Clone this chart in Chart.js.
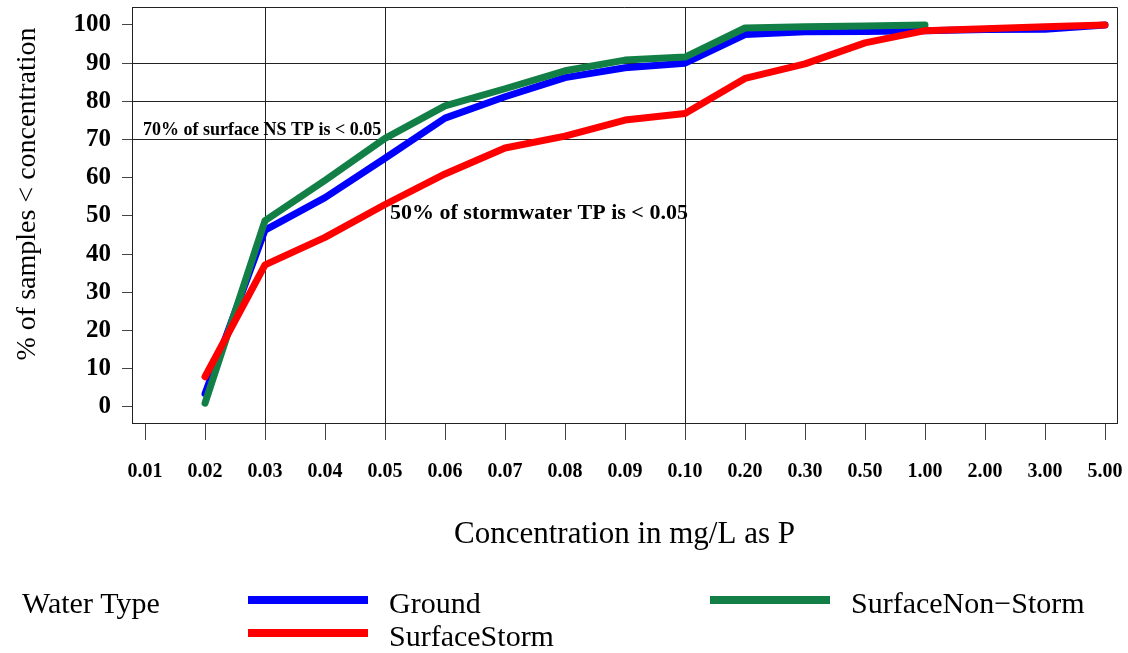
<!DOCTYPE html>
<html>
<head>
<meta charset="utf-8">
<style>
html,body{margin:0;padding:0;background:#fff;}
#wrap{width:1128px;height:653px;}
</style>
<script src="https://cdn.jsdelivr.net/npm/chart.js@4/dist/chart.umd.min.js"></script>
</head>
<body>
<div id="wrap"><canvas id="c" width="1128" height="653"></canvas></div>
<script>
const categories = ['0.01','0.02','0.03','0.04','0.05','0.06','0.07','0.08','0.09','0.10','0.20','0.30','0.50','1.00','2.00','3.00','5.00'];
const yTicks = [0,10,20,30,40,50,60,70,80,90,100];
const ground          = [null, 3.5, 46.3, 54.8, 65.1, 75.6, 81.2, 86.2, 88.8, 90.0, 97.5, 98.2, 98.3, 98.5, 98.8, 98.9, 100];
const surfaceStorm    = [null, 7.9, 37.2, 44.4, 53.0, 61.0, 67.8, 70.9, 75.1, 76.8, 86.0, 89.8, 95.3, 98.5, 99.0, 99.5, 100];
const surfaceNonStorm = [null, 1.0, 48.8, 59.3, 70.3, 78.8, 83.3, 88.0, 90.8, 91.6, 99.2, 99.5, 99.7, 100, null, null, null];
const seriesNames  = ['Ground', 'SurfaceStorm', 'SurfaceNon\u2212Storm'];
const seriesColors = ['#0000FF', '#FF0000', '#128046'];
const refX = ['0.03', '0.05', '0.10'];
const refY = [70, 80, 90];
const legendTitle = 'Water Type';
const xTitle = 'Concentration in mg/L as P';
const yTitle = '% of samples < concentration';
const note1 = { text: '70% of surface NS TP is < 0.05', x: '0.01', y: 72.5 };
const note2 = { text: '50% of stormwater TP is < 0.05', x: '0.05', y: 50.8 };

const SERIF = '"Liberation Serif", "DejaVu Serif", serif';

function toPoints(arr){ return categories.map((c,i)=>({x:i, y:arr[i]})); }

const allSeries = [ground, surfaceStorm, surfaceNonStorm];
const drawOrder = [3, 1, 2];

const datasets = allSeries.map((arr, k) => ({
  label: seriesNames[k],
  data: toPoints(arr),
  borderColor: seriesColors[k],
  backgroundColor: seriesColors[k],
  borderWidth: 7,
  pointRadius: 0,
  borderCapStyle: 'round',
  borderJoinStyle: 'round',
  tension: 0,
  fill: false,
  spanGaps: false,
  order: drawOrder[k]
}));

const overlay = {
  id: 'overlay',
  afterDraw(chart){
    const {ctx, chartArea: a, scales: {x, y}} = chart;
    ctx.save();
    // box top and right
    ctx.strokeStyle = '#222';
    ctx.lineWidth = 1;
    ctx.beginPath();
    ctx.moveTo(a.left, Math.round(a.top) + 0.5);
    ctx.lineTo(Math.round(a.right) + 0.5, Math.round(a.top) + 0.5);
    ctx.lineTo(Math.round(a.right) + 0.5, a.bottom);
    ctx.stroke();

    ctx.fillStyle = '#000';
    ctx.textBaseline = 'middle';
    // annotations
    ctx.textAlign = 'left';
    ctx.font = 'bold 18px ' + SERIF;
    ctx.fillText(note1.text, x.getPixelForValue(categories.indexOf(note1.x)) - 2, y.getPixelForValue(note1.y));
    ctx.font = 'bold 22px ' + SERIF;
    ctx.fillText(note2.text, x.getPixelForValue(categories.indexOf(note2.x)) + 5, y.getPixelForValue(note2.y));

    // y title
    ctx.save();
    ctx.translate(28, 194);
    ctx.rotate(-Math.PI / 2);
    ctx.textAlign = 'center';
    ctx.font = '28px ' + SERIF;
    ctx.fillText(yTitle, 0, 0);
    ctx.restore();

    // legend
    ctx.font = '30px ' + SERIF;
    ctx.textAlign = 'left';
    ctx.fillText(legendTitle, 22, 605);
    const slots = [{x:248, y:600}, {x:248, y:633}, {x:710, y:600}];
    chart.data.datasets.forEach((ds, i) => {
      const s = slots[i];
      ctx.strokeStyle = ds.borderColor;
      ctx.lineWidth = 8;
      ctx.lineCap = 'butt';
      ctx.beginPath();
      ctx.moveTo(s.x, s.y);
      ctx.lineTo(s.x + 120, s.y);
      ctx.stroke();
      ctx.fillStyle = '#000';
      ctx.fillText(ds.label, s.x + 141, s.y + 5);
    });
    ctx.restore();
  }
};

new Chart(document.getElementById('c'), {
  type: 'line',
  data: { datasets },
  plugins: [overlay],
  options: {
    responsive: false,
    animation: false,
    devicePixelRatio: 1,
    layout: { padding: { left: 0, right: 11, top: 7, bottom: 0 } },
    plugins: { legend: { display: false }, tooltip: { enabled: false } },
    scales: {
      x: {
        type: 'linear',
        min: -0.217,
        max: 16.2,
        afterBuildTicks: s => { s.ticks = categories.map((_, i) => ({ value: i })); },
        afterFit: s => { s.height = 230; s.paddingLeft = 0; s.paddingRight = 0; },
        ticks: {
          callback: v => categories[v],
          autoSkip: false,
          maxRotation: 0,
          color: '#000',
          padding: 20,
          font: { family: SERIF, size: 20, weight: 'bold' }
        },
        grid: {
          color: c => (c.tick && refX.includes(categories[c.tick.value])) ? '#222' : 'rgba(0,0,0,0)',
          lineWidth: 1,
          drawTicks: true,
          tickLength: 17,
          tickColor: '#444',
          tickWidth: 1
        },
        border: { display: true, color: '#222', width: 1 },
        title: {
          display: true,
          text: xTitle,
          color: '#000',
          font: { family: SERIF, size: 31 },
          padding: { top: 0, bottom: 100 }
        }
      },
      y: {
        type: 'linear',
        min: -4.2,
        max: 104.7,
        afterBuildTicks: s => { s.ticks = yTicks.map(v => ({ value: v })); },
        afterFit: s => { s.width = 132; s.paddingTop = 0; s.paddingBottom = 0; },
        ticks: {
          color: '#000',
          padding: 11,
          font: { family: SERIF, size: 25, weight: 'bold' }
        },
        grid: {
          color: c => (c.tick && refY.includes(c.tick.value)) ? '#222' : 'rgba(0,0,0,0)',
          lineWidth: 1,
          drawTicks: true,
          tickLength: 10,
          tickColor: '#444',
          tickWidth: 1
        },
        border: { display: true, color: '#222', width: 1 }
      }
    }
  }
});
</script>
</body>
</html>
